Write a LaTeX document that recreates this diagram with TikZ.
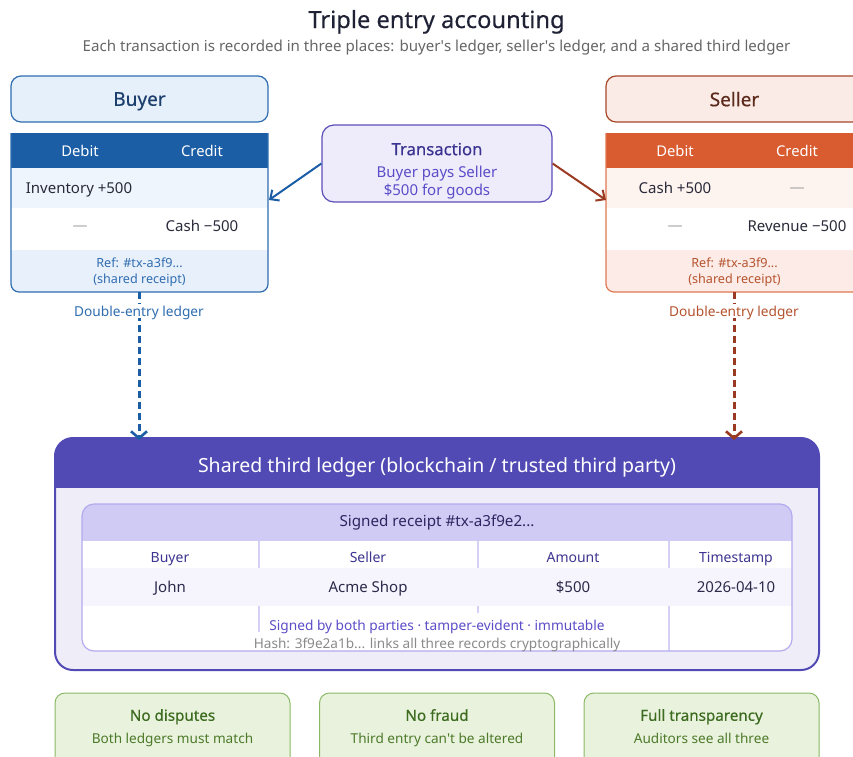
\documentclass[tikz,border=0pt]{standalone}
\usepackage{fontspec}
\setmainfont{Noto Sans}
\newfontfamily\medfont{Noto Sans}[FakeBold=0.4]
\usetikzlibrary{arrows.meta}
\definecolor{titlec}{HTML}{1F2235}
\definecolor{subc}{HTML}{666666}
\definecolor{bblue}{HTML}{1B5EA6}
\definecolor{bboxfill}{HTML}{E6F0FA}
\definecolor{bboxline}{HTML}{2F6DB0}
\definecolor{btext}{HTML}{1C3F6E}
\definecolor{brow}{HTML}{EEF5FD}
\definecolor{bfoot}{HTML}{E8F0FB}
\definecolor{sorange}{HTML}{D95B30}
\definecolor{sboxfill}{HTML}{FBEBE6}
\definecolor{sboxline}{HTML}{A8472A}
\definecolor{stext}{HTML}{5B2A1C}
\definecolor{srow}{HTML}{FDF3EF}
\definecolor{sfoot}{HTML}{FCEBE6}
\definecolor{sref}{HTML}{B5532F}
\definecolor{sledline}{HTML}{E07850}
\definecolor{sarrow}{HTML}{9B3A22}
\definecolor{rowtext}{HTML}{2A2A3A}
\definecolor{dashc}{HTML}{AAAAAA}
\definecolor{txfill}{HTML}{EEECFB}
\definecolor{txline}{HTML}{5B4DB8}
\definecolor{txtitle}{HTML}{3A3390}
\definecolor{txbody}{HTML}{5B4DC8}
\definecolor{purple}{HTML}{524AB4}
\definecolor{pbody}{HTML}{EFEEF8}
\definecolor{rhead}{HTML}{CFCBF4}
\definecolor{rline}{HTML}{B3ABEE}
\definecolor{rsep}{HTML}{D5D1F6}
\definecolor{rband}{HTML}{F6F5FE}
\definecolor{rheadtext}{HTML}{2D2660}
\definecolor{rcoltext}{HTML}{3D3590}
\definecolor{rdata}{HTML}{2D2A4A}
\definecolor{hashc}{HTML}{8A8A8A}
\definecolor{gfill}{HTML}{E8F2DC}
\definecolor{gline}{HTML}{8AB865}
\definecolor{gtitle}{HTML}{3D6B1F}
\definecolor{gsub}{HTML}{4D7A2A}
\newcommand{\fs}[1]{\fontsize{#1}{#1}\selectfont}
\newcommand{\apos}{\textquotesingle}
\begin{document}
\begin{tikzpicture}[x=1pt,y=-1pt,
  txt/.style={inner sep=0pt,anchor=center,text depth=0pt},
  hdrbox/.style={draw,rounded corners=10pt,line width=1.2pt,minimum width=257pt,minimum height=46pt,inner sep=0pt,text depth=0pt},
  greenbox/.style={draw=gline,fill=gfill,rounded corners=10pt,line width=1pt,minimum width=235pt,minimum height=84pt,inner sep=0pt},
  arr/.style={line width=2pt,-{Straight Barb[length=7pt,width=13pt,line width=2pt]}},
  darr/.style={line width=3pt,dash pattern=on 7pt off 4pt,-{Straight Barb[length=7pt,width=16pt,line width=2.6pt]}},
  lab/.style={inner sep=2pt,fill=white,font=\fs{13.7},text depth=0pt}]
\useasboundingbox (0,0) rectangle (853,756);
\clip (0,0) rectangle (853,756);

% Title
\node[txt,text=titlec,font=\fs{23.7}\medfont] (title) at (436.5,19) {Triple entry accounting};
\node[txt,text=subc,font=\fs{15.1}] (subtitle) at (436.5,46) {Each transaction is recorded in three places: buyer\apos s ledger, seller\apos s ledger, and a shared third ledger};

% Buyer header
\node[hdrbox,draw=bboxline,fill=bboxfill,text=btext,font=\fs{19}\medfont] (buyer) at (139.5,99) {Buyer};
% Buyer ledger
\fill[bfoot,rounded corners=8pt] (11,240) rectangle (268,292);
\fill[white] (11,208) rectangle (268,250);
\fill[brow] (11,168) rectangle (268,208);
\fill[bblue] (11,133) rectangle (268,168);
\draw[bboxline,line width=1.2pt,rounded corners=8pt] (11,133) -- (11,292) -- (268,292) -- (268,133);
\node[inner sep=0pt,minimum width=257pt,minimum height=159pt] (bled) at (139.5,212.5) {};
\node[txt,text=white,font=\fs{14.8}] (bdeb) at (80,151) {Debit};
\node[txt,text=white,font=\fs{14.8}] (bcre) at (202,151) {Credit};
\node[txt,text=rowtext,font=\fs{15}] (binv) at (79,188) {Inventory +500};
\node[txt,text=dashc,font=\fs{15}] (bdash) at (80,226) {\raisebox{-0.3em}{—}};
\node[txt,text=rowtext,font=\fs{15}] (bcash) at (202,226) {Cash −500};
\node[txt,text=bboxline,font=\fs{12.6}] (bref1) at (139.5,263) {Ref: \#tx-a3f9...};
\node[txt,text=bboxline,font=\fs{12.6}] (bref2) at (139.5,279) {(shared receipt)};

% Seller header
\node[hdrbox,draw=sboxline,fill=sboxfill,text=stext,font=\fs{19}\medfont] (seller) at (734.5,99) {Seller};
% Seller ledger
\fill[sfoot,rounded corners=8pt] (606,240) rectangle (863,292);
\fill[white] (606,208) rectangle (863,250);
\fill[srow] (606,168) rectangle (863,208);
\fill[sorange] (606,133) rectangle (863,168);
\draw[sledline,line width=1.2pt,rounded corners=8pt] (606,133) -- (606,292) -- (863,292) -- (863,133);
\node[inner sep=0pt,minimum width=257pt,minimum height=159pt] (sled) at (734.5,212.5) {};
\node[txt,text=white,font=\fs{14.8}] (sdeb) at (675,151) {Debit};
\node[txt,text=white,font=\fs{14.8}] (scre) at (797,151) {Credit};
\node[txt,text=rowtext,font=\fs{15}] (scash) at (675,188) {Cash +500};
\node[txt,text=dashc,font=\fs{15}] (sdash1) at (797,188) {\raisebox{-0.3em}{—}};
\node[txt,text=dashc,font=\fs{15}] (sdash2) at (675,226) {\raisebox{-0.3em}{—}};
\node[txt,text=rowtext,font=\fs{15}] (srev) at (797,226) {Revenue −500};
\node[txt,text=sref,font=\fs{12.6}] (sref1) at (734.5,263) {Ref: \#tx-a3f9...};
\node[txt,text=sref,font=\fs{12.6}] (sref2) at (734.5,279) {(shared receipt)};

% Transaction
\node[draw=txline,fill=txfill,rounded corners=12pt,line width=1.2pt,minimum width=230pt,minimum height=77pt,inner sep=0pt] (txn) at (437,163.5) {};
\node[txt,text=txtitle,font=\fs{16.7}\medfont] (txt1) at (437,149) {Transaction};
\node[txt,text=txbody,font=\fs{15}] (txt2) at (437,172) {Buyer pays Seller};
\node[txt,text=txbody,font=\fs{15}] (txt3) at (437,190) {\$500 for goods};

\coordinate (bIn) at (269,200);
\coordinate (sIn) at (606,200);
\draw[arr,bblue] (txn.west) -- (bIn);
\draw[arr,sarrow] (txn.east) -- (sIn);

% Shared third ledger
\begin{scope}
\clip[rounded corners=18pt] (55,438) rectangle (819,670);
\fill[pbody] (55,438) rectangle (819,670);
\fill[purple] (55,438) rectangle (819,488);
\end{scope}
\draw[purple,line width=2pt,rounded corners=18pt] (55,438) rectangle (819,670);
\node[inner sep=0pt,minimum width=764pt,minimum height=232pt] (shared) at (437,554) {};
\node[txt,text=white,font=\fs{19.5}] (sharedt) at (437,465) {Shared third ledger (blockchain / trusted third party)};

% Receipt
\begin{scope}
\clip[rounded corners=12pt] (82,504) rectangle (792,651);
\fill[white] (82,504) rectangle (792,651);
\draw[rsep,line width=1.5pt] (259,541) -- (259,632);
\draw[rsep,line width=1.5pt] (478,541) -- (478,613);
\draw[rsep,line width=1.5pt] (669,541) -- (669,651);
\fill[rband] (82,568) rectangle (792,606);
\fill[rhead] (82,504) rectangle (792,541);
\end{scope}
\draw[rline,line width=1.2pt,rounded corners=12pt] (82,504) rectangle (792,651);
\node[txt,text=rheadtext,font=\fs{15.2}] (rtitle) at (437,521) {Signed receipt \#tx-a3f9e2...};
\node[txt,text=rcoltext,font=\fs{14}] (c1) at (170,557) {Buyer};
\node[txt,text=rcoltext,font=\fs{14}] (c2) at (368,557) {Seller};
\node[txt,text=rcoltext,font=\fs{14}] (c3) at (573,557) {Amount};
\node[txt,text=rcoltext,font=\fs{14}] (c4) at (736,557) {Timestamp};
\node[txt,text=rdata,font=\fs{15}] (d1) at (170,587) {John};
\node[txt,text=rdata,font=\fs{15}] (d2) at (368,587) {Acme Shop};
\node[txt,text=rdata,font=\fs{15}] (d3) at (573,587) {\$500};
\node[txt,text=rdata,font=\fs{15}] (d4) at (736,587) {2026-04-10};
\node[txt,text=txbody,font=\fs{13.7}] (signed) at (437,625) {Signed by both parties · tamper-evident · immutable};
\node[txt,text=hashc,font=\fs{13.6}] (hash) at (437,643) {Hash: 3f9e2a1b... links all three records cryptographically};

% Dashed connectors
\coordinate (bOut) at (139,292);
\coordinate (sOut) at (734,292);
\coordinate (bDown) at (139,440);
\coordinate (sDown) at (734,440);
\draw[darr,bblue] (bOut) -- (bDown);
\draw[darr,sarrow] (sOut) -- (sDown);
\node[lab,text=bboxline] (blab) at (139,311) {Double-entry ledger};
\node[lab,text=sref] (slab) at (734,311) {Double-entry ledger};

% Bottom boxes
\node[greenbox] (g1) at (172.5,735) {};
\node[greenbox] (g2) at (437,735) {};
\node[greenbox] (g3) at (701.5,735) {};
\node[txt,text=gtitle,font=\fs{15.2}\medfont] (g1t) at (172.5,715) {No disputes};
\node[txt,text=gsub,font=\fs{13.6}] (g1s) at (172.5,738) {Both ledgers must match};
\node[txt,text=gtitle,font=\fs{15.2}\medfont] (g2t) at (437,715) {No fraud};
\node[txt,text=gsub,font=\fs{13.6}] (g2s) at (437,738) {Third entry can\apos t be altered};
\node[txt,text=gtitle,font=\fs{15.2}\medfont] (g3t) at (701.5,715) {Full transparency};
\node[txt,text=gsub,font=\fs{13.6}] (g3s) at (701.5,738) {Auditors see all three};
\end{tikzpicture}
\end{document}
